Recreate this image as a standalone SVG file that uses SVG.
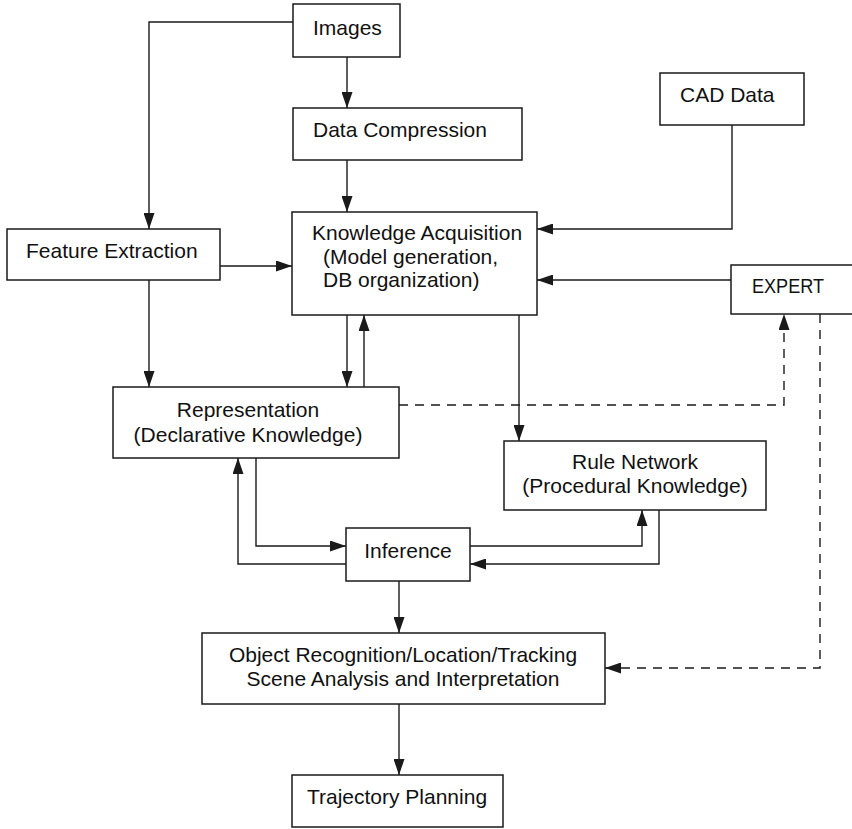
<svg xmlns="http://www.w3.org/2000/svg" width="852" height="829" viewBox="0 0 852 829">
  <defs>
    <marker id="arrow" markerUnits="userSpaceOnUse" markerWidth="16" markerHeight="11" refX="16" refY="5.5" orient="auto">
      <path d="M0,0 L16,5.5 L0,11 Z" fill="#1a1a1a"/>
    </marker>
    <style>
      .box { fill: #ffffff; stroke: #1a1a1a; stroke-width: 1.5; }
      .lbl { font-family: "Liberation Sans", Arial, Helvetica, sans-serif; font-size: 21px; fill: #111111; }
      .mid { text-anchor: middle; }
      .conn { fill: none; stroke: #1a1a1a; stroke-width: 1.4; marker-end: url(#arrow); }
      .dash { stroke-dasharray: 9 7; }
    </style>
  </defs>
  <rect width="852" height="829" fill="#ffffff"/>

  <!-- connectors -->
  <g id="connectors">
    <path class="conn" d="M293,22 H149 V229"/>
    <path class="conn" d="M347,57 V108"/>
    <path class="conn" d="M347,160 V212"/>
    <path class="conn" d="M732,125 V229 H537"/>
    <path class="conn" d="M220,266 H292"/>
    <path class="conn" d="M731,280 H537"/>
    <path class="conn" d="M149,280 V387"/>
    <path class="conn" d="M347,315 V387"/>
    <path class="conn" d="M364,387 V315"/>
    <path class="conn" d="M519,315 V441"/>
    <path class="conn dash" d="M399,405 H784 V314"/>
    <path class="conn dash" d="M820,314 V668 H605"/>
    <path class="conn" d="M256,458 V546 H346"/>
    <path class="conn" d="M346,564 H238 V458"/>
    <path class="conn" d="M470,546 H642 V510"/>
    <path class="conn" d="M659,510 V564 H470"/>
    <path class="conn" d="M399,581 V633"/>
    <path class="conn" d="M399,704 V775"/>
  </g>

  <!-- nodes -->
  <g id="images">
    <rect class="box" x="293" y="4" width="107" height="53"/>
    <text class="lbl" x="313" y="35">Images</text>
  </g>
  <g id="data-compression">
    <rect class="box" x="293" y="108" width="229" height="52"/>
    <text class="lbl" x="313" y="137">Data Compression</text>
  </g>
  <g id="cad-data">
    <rect class="box" x="660" y="73" width="144" height="52"/>
    <text class="lbl" x="680" y="102">CAD Data</text>
  </g>
  <g id="feature-extraction">
    <rect class="box" x="7" y="229" width="213" height="51"/>
    <text class="lbl" x="26" y="258">Feature Extraction</text>
  </g>
  <g id="knowledge-acquisition">
    <rect class="box" x="292" y="212" width="245" height="103"/>
    <text class="lbl" x="312" y="240">Knowledge Acquisition</text>
    <text class="lbl" x="323" y="264">(Model generation,</text>
    <text class="lbl" x="323" y="287">DB organization)</text>
  </g>
  <g id="expert">
    <rect class="box" x="731" y="265" width="130" height="49"/>
    <text class="lbl" x="752" y="293" textLength="72" lengthAdjust="spacingAndGlyphs">EXPERT</text>
  </g>
  <g id="representation">
    <rect class="box" x="113" y="387" width="286" height="71"/>
    <text class="lbl mid" x="248" y="417">Representation</text>
    <text class="lbl mid" x="248" y="442">(Declarative Knowledge)</text>
  </g>
  <g id="rule-network">
    <rect class="box" x="504" y="441" width="262" height="69"/>
    <text class="lbl mid" x="635" y="469">Rule Network</text>
    <text class="lbl mid" x="635" y="493">(Procedural Knowledge)</text>
  </g>
  <g id="inference">
    <rect class="box" x="346" y="528" width="124" height="53"/>
    <text class="lbl mid" x="408" y="558">Inference</text>
  </g>
  <g id="object-recognition">
    <rect class="box" x="202" y="633" width="403" height="71"/>
    <text class="lbl mid" x="403" y="662">Object Recognition/Location/Tracking</text>
    <text class="lbl mid" x="403" y="686">Scene Analysis and Interpretation</text>
  </g>
  <g id="trajectory-planning">
    <rect class="box" x="292" y="775" width="211" height="52"/>
    <text class="lbl mid" x="397" y="804">Trajectory Planning</text>
  </g>
</svg>
